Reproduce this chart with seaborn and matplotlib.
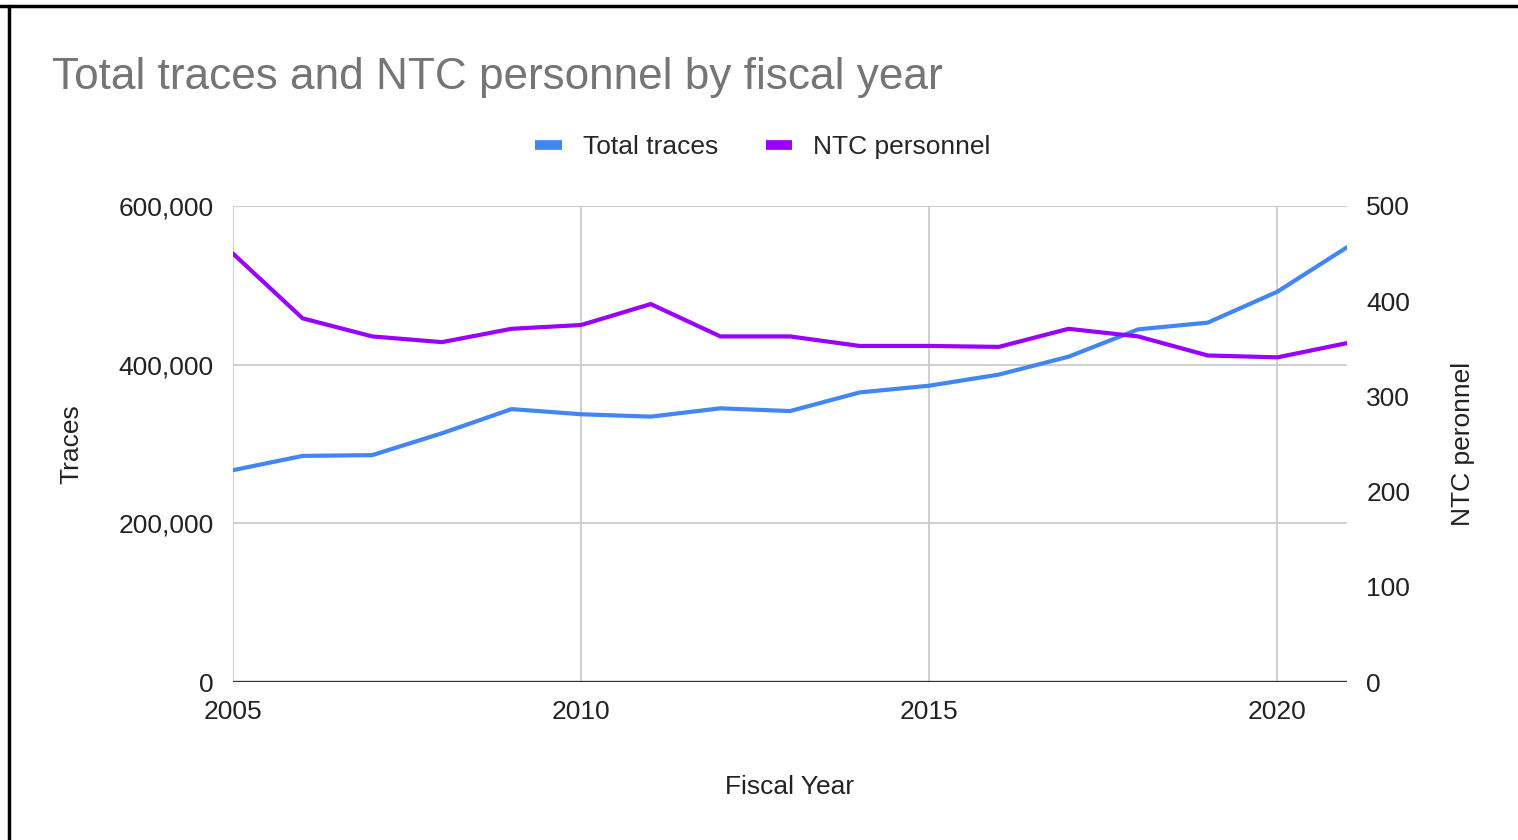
import matplotlib
matplotlib.use("Agg")
import matplotlib.pyplot as plt
import seaborn as sns
import pandas as pd
from matplotlib.lines import Line2D
from matplotlib.ticker import FuncFormatter

years = list(range(2005, 2022))
total_traces = [267000, 285000, 286000, 313500, 344000, 337500, 334500, 345000,
                341500, 365000, 373500, 387500, 410000, 444500, 453000, 492000, 548000]
ntc_personnel = [450, 382, 363, 357, 371, 375, 397, 363, 363, 353, 353, 352,
                 371, 363, 343, 341, 356]

title = "Total traces and NTC personnel by fiscal year"
series_names = ["Total traces", "NTC personnel"]
x_label = "Fiscal Year"
y_left_label = "Traces"
y_right_label = "NTC peronnel"
left_ticks = [0, 200000, 400000, 600000]
right_ticks = [0, 100, 200, 300, 400, 500]
x_ticks = [2005, 2010, 2015, 2020]

blue = "#4285F4"
purple = "#9900FF"

df = pd.DataFrame({"year": years, "traces": total_traces, "ntc": ntc_personnel})

sns.set_theme(style="white")
plt.rcParams["font.family"] = ["Liberation Sans", "DejaVu Sans"]

fs = 19
fig = plt.figure(figsize=(15.18, 8.4), dpi=100)
ax = fig.add_axes([233/1518, 1-682/840, (1347-233)/1518, (682-206)/840])
ax2 = ax.twinx()

sns.lineplot(data=df, x="year", y="traces", ax=ax, color=blue, linewidth=3, zorder=3)
sns.lineplot(data=df, x="year", y="ntc", ax=ax2, color=purple, linewidth=3, zorder=3)

ax.set_xlim(2005, 2021)
ax.set_ylim(0, 600000)
ax2.set_ylim(0, 500)
ax.set_xticks(x_ticks)
ax.set_yticks(left_ticks)
ax2.set_yticks(right_ticks)
ax.yaxis.set_major_formatter(FuncFormatter(lambda v, p: f"{int(v):,}"))

ax.grid(True, color="#cccccc", linewidth=1.3)
ax.set_axisbelow(True)
ax2.grid(False)
for a in (ax, ax2):
    for s in a.spines.values():
        s.set_visible(False)
    a.tick_params(length=0, labelsize=fs, colors="#222222")
ax.tick_params(axis="y", pad=14)
ax.tick_params(axis="x", pad=13)
ax2.tick_params(axis="y", pad=14)
ax.axhline(0, color="#333333", linewidth=2.4, zorder=4)

ax.set_xlabel(x_label, fontsize=fs, color="#222222", labelpad=37)
ax.set_ylabel(y_left_label, fontsize=fs, color="#222222", labelpad=25)
ax2.set_ylabel(y_right_label, fontsize=fs, color="#222222", labelpad=29)

fig.text(52/1518, 1-77/840, title, fontsize=31.8, color="#757575", va="center", ha="left")

handles = [Line2D([0], [0], color=blue, linewidth=7, solid_capstyle="butt"),
           Line2D([0], [0], color=purple, linewidth=7, solid_capstyle="butt")]
fig.legend(handles, series_names, loc="center", bbox_to_anchor=(763/1518, 1-147/840),
           ncol=2, frameon=False, fontsize=fs, handlelength=1.0, handletextpad=0.8,
           columnspacing=1.8)

# border (top and left)
fig.add_artist(Line2D([0, 1], [1-5.5/840, 1-5.5/840], transform=fig.transFigure,
                      color="black", linewidth=2.5))
fig.add_artist(Line2D([9/1518, 9/1518], [0, 1-5.5/840], transform=fig.transFigure,
                      color="black", linewidth=2.5))

fig.savefig("out.png", dpi=100, facecolor="white")
